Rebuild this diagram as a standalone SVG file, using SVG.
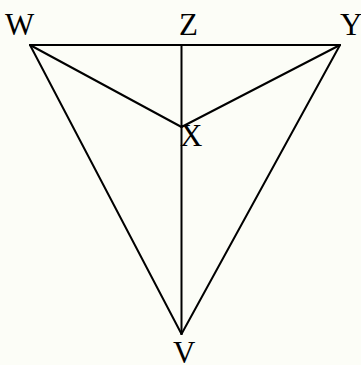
<svg xmlns="http://www.w3.org/2000/svg" width="361" height="365" viewBox="0 0 361 365">
<style>
.l{stroke:#000;stroke-width:2;fill:none;stroke-linecap:round}
.t{font-family:"Liberation Serif",serif;font-size:31px;fill:#000}
</style>
<rect width="361" height="365" fill="#fcfdf7"/>
<g id="connectors">
<line class="l" x1="30" y1="45" x2="340" y2="45"/>
<line class="l" x1="30" y1="45" x2="181.5" y2="127"/>
<line class="l" x1="340" y1="45" x2="181.5" y2="127"/>
<line class="l" x1="30" y1="45" x2="181.5" y2="334"/>
<line class="l" x1="340" y1="45" x2="181.5" y2="334"/>
<line class="l" x1="181.5" y1="45" x2="181.5" y2="334"/>
</g>
<g id="W"><text class="t" x="5" y="35">W</text></g>
<g id="Z"><text class="t" x="179" y="35">Z</text></g>
<g id="Y"><text class="t" x="340" y="35">Y</text></g>
<g id="X"><text class="t" x="180" y="146">X</text></g>
<g id="V"><text class="t" x="173" y="363">V</text></g>
</svg>
